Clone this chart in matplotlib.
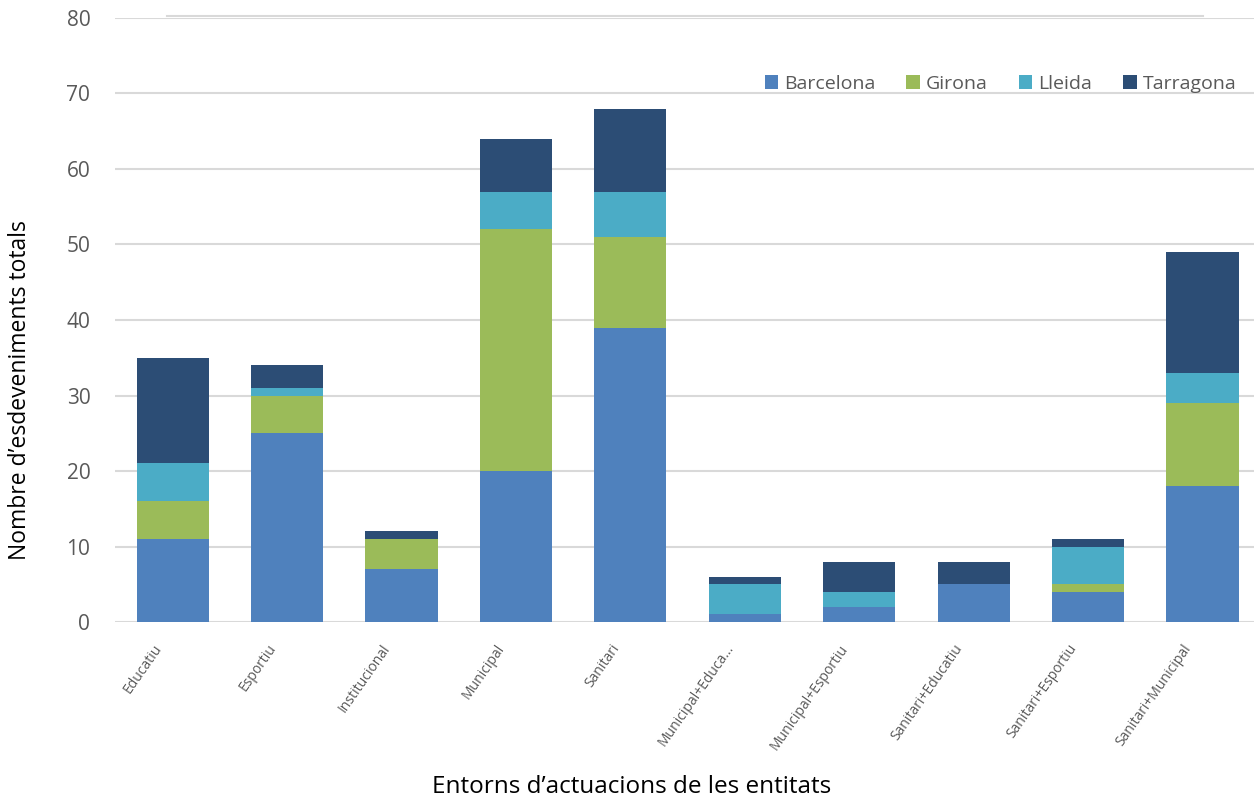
import numpy as np
import matplotlib.pyplot as plt
import matplotlib.transforms as mtransforms

# entorns i recomptes per demarcació
entorns = ['Educatiu', 'Esportiu', 'Institucional', 'Municipal', 'Sanitari',
           'Municipal+Educa...', 'Municipal+Esportiu', 'Sanitari+Educatiu',
           'Sanitari+Esportiu', 'Sanitari+Municipal']
barcelona = [11, 25, 7, 20, 39, 1, 2, 5, 4, 18]
girona    = [5, 5, 4, 32, 12, 0, 0, 0, 1, 11]
lleida    = [5, 1, 0, 5, 6, 4, 2, 0, 5, 4]
tarragona = [14, 3, 1, 7, 11, 1, 4, 3, 1, 16]

series = [('Barcelona', barcelona, '#4f81bd'),
          ('Girona', girona, '#9bbb59'),
          ('Lleida', lleida, '#4bacc6'),
          ('Tarragona', tarragona, '#2c4d75')]

plt.rcParams['font.family'] = ['Open Sans', 'DejaVu Sans']

fig = plt.figure(figsize=(12.54, 7.99), dpi=100)
ax = fig.add_axes([0.092, 0.2215, 0.908, 0.756])

x = np.arange(len(entorns))
base = np.zeros(len(entorns))
for nom, vals, col in series:
    ax.bar(x, vals, width=0.63, bottom=base, color=col, label=nom, zorder=3)
    base = base + np.array(vals)

ax.set_ylim(0, 80)
ax.set_xlim(-0.5, 9.45)
ax.set_yticks(range(0, 81, 10))
ax.yaxis.grid(True, color='#d9d9d9', linewidth=1.5, zorder=0)
ax.set_axisbelow(True)
for s in ax.spines.values():
    s.set_visible(False)
ax.tick_params(axis='both', length=0, colors='#595959')
ax.tick_params(axis='y', labelsize=15, pad=18)
ax.set_xticks(x)
ax.set_xticklabels(entorns, rotation=55, ha='right', rotation_mode='anchor',
                   fontsize=10, color='#595959')
ax.tick_params(axis='x', pad=14)
# etiquetes una mica a l'esquerra
shift = mtransforms.ScaledTranslation(-20 / 100, 0, fig.dpi_scale_trans)
for lab in ax.get_xticklabels():
    lab.set_transform(lab.get_transform() + shift)

# línia fina de la vora superior
ax.plot([0.045, 0.955], [1.004, 1.004], transform=ax.transAxes,
        color='#d9d9d9', linewidth=1.5, clip_on=False)

fig.text(0.016, 0.512, 'Nombre d\u2019esdeveniments totals', fontsize=16.5,
         color='black', rotation=90, ha='center', va='center')
fig.text(0.504, 0.015, 'Entorns d\u2019actuacions de les entitats', fontsize=17.5,
         color='black', ha='center', va='center')

leg = ax.legend(loc='upper right', bbox_to_anchor=(1.0, 0.935), ncol=4, frameon=False,
                fontsize=14, handlelength=0.7, handleheight=0.7, handletextpad=0.3,
                columnspacing=1.6)
for t in leg.get_texts():
    t.set_color('#595959')

fig.savefig('out.png', dpi=100)
